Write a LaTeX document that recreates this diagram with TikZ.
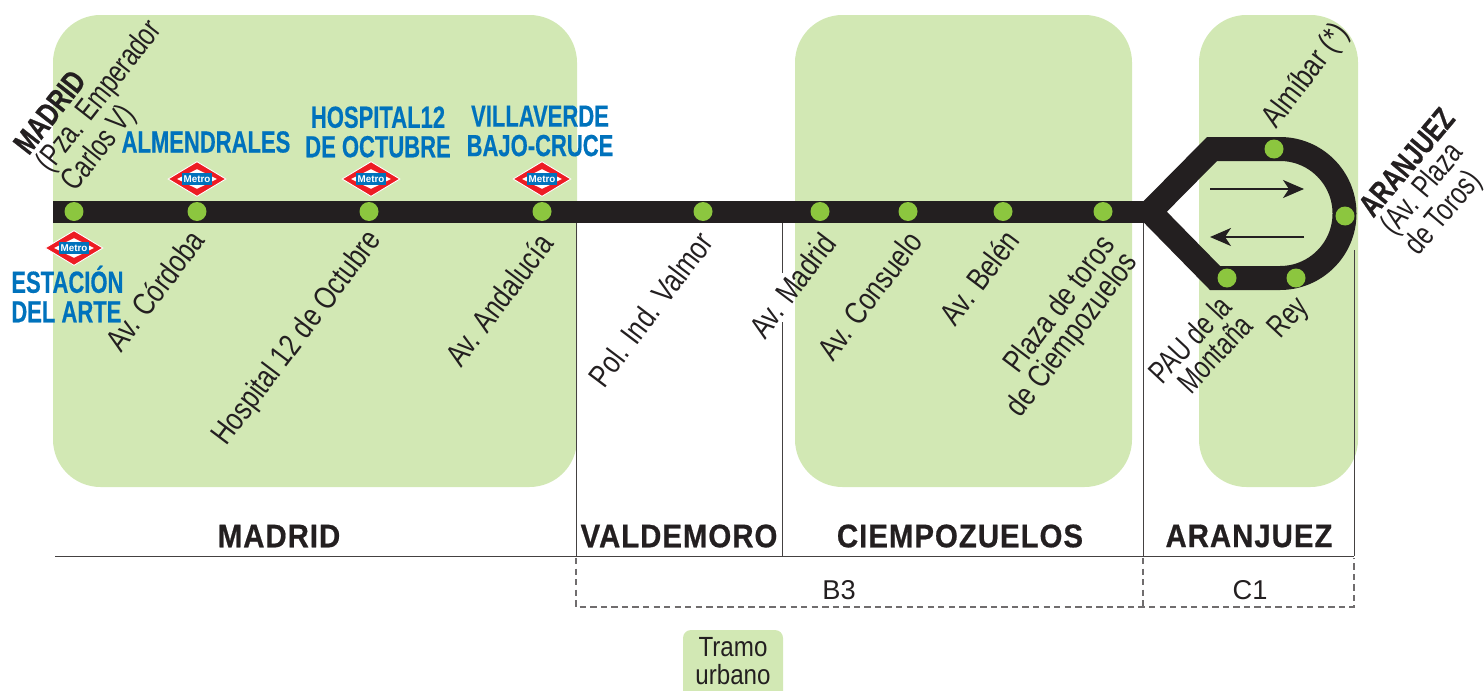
\documentclass[tikz,border=0pt]{standalone}
\usepackage{fontspec}
\setmainfont{Liberation Sans}
\newfontfamily\stopfont[FakeStretch=0.8]{Liberation Sans}
\newfontfamily\tightfont[FakeStretch=0.75,BoldFeatures={FakeBold=0.6}]{Liberation Sans}
\newfontfamily\farefont[FakeStretch=0.87]{Liberation Sans}
\newfontfamily\bluefont[FakeStretch=0.72,BoldFeatures={FakeBold=0.4}]{Liberation Sans}
\newfontfamily\zonefont[FakeStretch=0.9,LetterSpace=3,BoldFeatures={FakeBold=0.6}]{Liberation Sans}
\usetikzlibrary{positioning, arrows.meta, shapes.geometric}
\definecolor{zonegreen}{HTML}{D2E8B4}
\definecolor{stopgreen}{HTML}{8CC63F}
\definecolor{linkblack}{HTML}{231F20}
\definecolor{metroblue}{HTML}{0072BC}
\definecolor{metrored}{HTML}{ED1C24}
\newcommand{\metrologo}[2]{%
  \node[metrodiamond] (#1) at (#2) {};
  \node[metrocore] (#1core) at (#1) {};
  \node[metrotag] (#1tag) at (#1) {Metro};
}
\begin{document}
\begin{tikzpicture}[
        x=0.02cm, y=-0.02cm,
        every node/.style={text=linkblack},
        zone/.style={fill=zonegreen, rounded corners=0.95cm},
        stop/.style={circle, fill=stopgreen, inner sep=0pt, minimum size=0.38cm},
        stopname/.style={font=\stopfont\fontsize{18}{16}\selectfont, rotate=53, inner sep=0pt},
        tightname/.style={font=\tightfont\fontsize{18}{16}\selectfont, inner sep=0pt},
        bluename/.style={font=\bluefont\bfseries\fontsize{17.4}{16.8}\selectfont, text=metroblue, inner sep=0pt},
        zonename/.style={font=\zonefont\bfseries\fontsize{18.6}{18}\selectfont, inner sep=0pt},
        farename/.style={font=\fontsize{15.5}{16}\selectfont, inner sep=0pt},
        legendname/.style={font=\farefont\fontsize{15.8}{15.5}\selectfont, inner sep=0pt},
        track/.style={draw=linkblack, line width=0.48cm, line join=miter, miter limit=10},
        trunk/.style={draw=linkblack, line width=0.44cm},
        sense/.style={draw=linkblack, line width=1.2pt, -{Stealth[length=0.42cm, width=0.36cm, inset=0.12cm]}},
        border/.style={draw=linkblack!85, line width=0.5pt},
        fareline/.style={draw=linkblack!65, line width=0.6pt, dash pattern=on 3.6pt off 2.4pt},
        metrodiamond/.style={diamond, aspect=1.66, fill=metrored, draw=white, line width=0.5pt, inner sep=0pt, minimum width=1.16cm, minimum height=0.7cm},
        metrocore/.style={diamond, aspect=2, fill=white, inner sep=0pt, minimum width=0.8cm, minimum height=0.4cm},
        metrotag/.style={fill=metroblue, text=white, font=\bfseries\fontsize{5.6}{6}\selectfont, inner sep=0pt, minimum width=0.6cm, minimum height=0.25cm}
    ]
        \useasboundingbox (0,0) rectangle (1484,690);
        % Green zones
        \fill[zone] (53,15) rectangle (577,487);
        \fill[zone] (795,15) rectangle (1132,487);
        \fill[zone] (1199,15) rectangle (1358,487);
        % Borders between towns
        \draw[border] (576,222) -- (576,556);
        \draw[border] (782,222) -- (782,273);
        \draw[border] (782,322) -- (782,556);
        \draw[border] (1143,222) -- (1143,556);
        \draw[border] (1354,250) -- (1354,556);
        \draw[border] (55,556) -- (1354,556);
        % Fare areas
        \draw[fareline] (576,558) -- (576,607) -- (1354,607) -- (1354,558);
        \draw[fareline] (1143,558) -- (1143,607);
        % Track
        \coordinate (start) at (53,211.7);
        \coordinate (fork) at (1150,211.7);
        \coordinate (loopup) at (1212,149);
        \coordinate (loopdown) at (1215,278);
        \draw[trunk] (start) -- (fork);
        \draw[track] (fork) -- (loopup) -- (1280,149) arc[start angle=-90, end angle=90, radius=64.5] -- (loopdown) -- cycle;
        % Stops on the line
        \node[stop] (emperador) at (74,211.5) {};
        \node[stop] (cordoba) at (197,211.5) {};
        \node[stop] (hospital) at (369,211.5) {};
        \node[stop] (andalucia) at (542,211.5) {};
        \node[stop] (valmor) at (703,211.5) {};
        \node[stop] (avmadrid) at (820,211.5) {};
        \node[stop] (consuelo) at (908,211.5) {};
        \node[stop] (belen) at (1003,211.5) {};
        \node[stop] (toros) at (1103,211.5) {};
        % Stops on the loop
        \node[stop] (almibar) at (1274,149) {};
        \node[stop] (plaza) at (1345,216) {};
        \node[stop] (rey) at (1296,278) {};
        \node[stop] (pau) at (1227,278) {};
        % Direction arrows
        \coordinate (goA) at (1210,189);
        \coordinate (goB) at (1304,189);
        \coordinate (backA) at (1304,237);
        \coordinate (backB) at (1210,237);
        \draw[sense] (goA) -- (goB);
        \draw[sense] (backA) -- (backB);
        % Stop names
        \node[stopname, anchor=east] (lcordoba) at (197,234) {Av. Córdoba};
        \node[stopname, anchor=east] (lhospital) at (376,235) {Hospital 12 de Octubre};
        \node[stopname, anchor=east] (landalucia) at (546,237) {Av. Andalucía};
        \node[stopname, anchor=east] (lvalmor) at (706,236) {Pol. Ind. Valmor};
        \node[stopname, anchor=east] (lavmadrid) at (829,237) {Av. Madrid};
        \node[stopname, anchor=east] (lconsuelo) at (915,235) {Av. Consuelo};
        \node[stopname, anchor=east] (lbelen) at (1012,234) {Av. Belén};
        \node[stopname, anchor=east, align=right] (ltoros) at (1121,249) {Plaza de toros\\de Ciempozuelos};
        \node[tightname, anchor=east, rotate=47, align=right] (lpau) at (1236,310) {PAU de la\\Montaña};
        \node[tightname, anchor=east, rotate=47] (lrey) at (1304,303) {Rey};
        \node[stopname, anchor=west] (lalmibar) at (1270,125) {Almíbar (*)};
        \node[tightname, anchor=west, rotate=52, align=left] (lmadrid) at (46,170) {\textbf{MADRID}\\(Pza. Emperador\\Carlos V)};
        \node[tightname, anchor=west, rotate=50, align=left] (laranjuez) at (1390,233) {\textbf{ARANJUEZ}\\(Av. Plaza\\de Toros)};
        % Metro connections
        \metrologo{mcordoba}{197,179}
        \metrologo{mhospital}{371,179}
        \metrologo{mandalucia}{542,179}
        \metrologo{marte}{74,248}
        \node[bluename] (nalmendrales) at (206,142) {ALMENDRALES};
        \node[bluename, align=center] (nhospital) at (378,132) {HOSPITAL12\\DE OCTUBRE};
        \node[bluename, align=center] (nvillaverde) at (540,131) {VILLAVERDE\\BAJO-CRUCE};
        \node[bluename, align=left, anchor=west] (narte) at (11,294) {ESTACIÓN\\DEL ARTE};
        % Towns
        \node[zonename] (zmadrid) at (279,536) {MADRID};
        \node[zonename] (zvaldemoro) at (679,536) {VALDEMORO};
        \node[zonename] (zciempozuelos) at (960,536) {CIEMPOZUELOS};
        \node[zonename] (zaranjuez) at (1249,536) {ARANJUEZ};
        \node[farename] (fb) at (839,590) {B3};
        \node[farename] (fc) at (1250,590) {C1};
        % Legend
        \fill[zonegreen, rounded corners=0.16cm] (683,630) rectangle (783,700);
        \node[legendname, align=center] (legend) at (733,661) {Tramo\\urbano};
    \end{tikzpicture}
\end{document}
